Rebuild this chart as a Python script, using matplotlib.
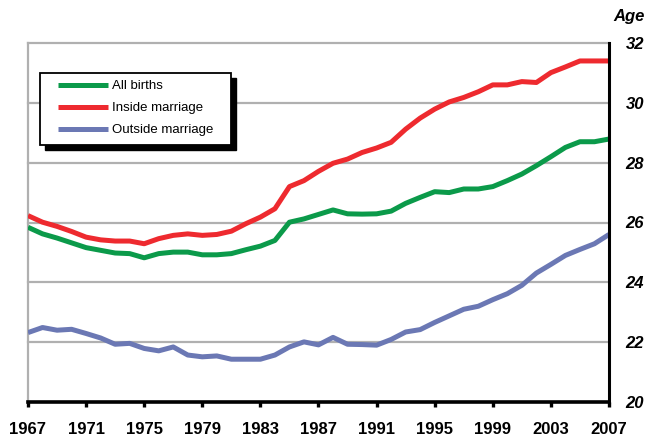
import matplotlib
matplotlib.use("Agg")
import matplotlib.pyplot as plt
from matplotlib.patches import Rectangle

years = list(range(1967, 2008))
all_births = [25.84, 25.62, 25.48, 25.32, 25.16, 25.07, 24.98, 24.96, 24.82, 24.96,
              25.01, 25.01, 24.92, 24.92, 24.96, 25.09, 25.21, 25.40, 26.01, 26.12,
              26.27, 26.42, 26.29, 26.28, 26.29, 26.38, 26.64, 26.84, 27.03, 27.00,
              27.12, 27.12, 27.20, 27.40, 27.62, 27.90, 28.20, 28.51, 28.70, 28.70, 28.79]
inside = [26.23, 26.01, 25.87, 25.70, 25.51, 25.42, 25.38, 25.38, 25.29, 25.46,
          25.57, 25.62, 25.57, 25.60, 25.71, 25.96, 26.18, 26.46, 27.20, 27.40,
          27.71, 27.98, 28.12, 28.34, 28.49, 28.68, 29.12, 29.49, 29.79, 30.03,
          30.18, 30.37, 30.60, 30.60, 30.71, 30.68, 31.01, 31.20, 31.40, 31.40, 31.40]
outside = [22.32, 22.49, 22.40, 22.43, 22.29, 22.14, 21.93, 21.96, 21.79, 21.71,
           21.84, 21.57, 21.51, 21.54, 21.43, 21.43, 21.43, 21.57, 21.84, 22.01,
           21.91, 22.16, 21.93, 21.92, 21.90, 22.09, 22.34, 22.42, 22.66, 22.88,
           23.10, 23.20, 23.42, 23.62, 23.90, 24.31, 24.60, 24.90, 25.10, 25.29, 25.60]
labels = ["All births", "Inside marriage", "Outside marriage"]
colors = ["#0b9a4a", "#ee2a2f", "#6b78b4"]
xticks = list(range(1967, 2008, 4))
yticks = [20, 22, 24, 26, 28, 30, 32]

plt.rcParams['font.family'] = ['Liberation Sans', 'DejaVu Sans']

fig = plt.figure(figsize=(6.47, 4.38), dpi=100)
ax = fig.add_axes([28/647, 36/438, 581/647, 359/438])

grid_c = "#b0b0b0"
for v in yticks[1:]:
    ax.axhline(v, color=grid_c, lw=1.6, zorder=1, clip_on=False)

handles = []
for series, lab, c in zip([all_births, inside, outside], labels, colors):
    h, = ax.plot(years, series, color=c, lw=3.6, label=lab, solid_capstyle='butt',
                 solid_joinstyle='round', zorder=3)
    handles.append(h)

ax.set_xlim(1967, 2007)
ax.set_ylim(20, 32)

ax.spines['left'].set_color(grid_c)
ax.spines['left'].set_linewidth(1.6)
ax.spines['top'].set_visible(False)
ax.spines['right'].set_color('black')
ax.spines['right'].set_linewidth(2.2)
ax.spines['right'].set_zorder(5)
ax.spines['bottom'].set_color('black')
ax.spines['bottom'].set_linewidth(2.6)
ax.spines['bottom'].set_zorder(5)

ax.set_xticks(xticks)
ax.set_xticklabels([str(y) for y in xticks], fontsize=12, fontweight='bold')
ax.yaxis.tick_right()
ax.set_yticks(yticks)
ax.set_yticklabels([str(v) for v in yticks], fontsize=12, fontweight='bold', style='italic')
ax.xaxis.set_tick_params(which='major', direction='out', length=3.5, width=2.4,
                         color='black', pad=11)
ax.yaxis.set_tick_params(which='major', length=0, pad=12)

fig.text(0.997, 0.963, "Age", ha='right', va='center', fontsize=12,
         fontweight='bold', style='italic')

# legend box with solid shadow
bx0, bx1 = 0.0207, 0.3494
by0, by1 = 0.716, 0.916
dx, dy = 5/581, 5/359
ax.add_patch(Rectangle((bx0 + dx, by0 - dy), bx1 - bx0, by1 - by0, transform=ax.transAxes,
                       facecolor='black', edgecolor='black', zorder=6))
ax.add_patch(Rectangle((bx0, by0), bx1 - bx0, by1 - by0, transform=ax.transAxes,
                       facecolor='white', edgecolor='black', lw=1.3, zorder=7))
leg = ax.legend(handles=handles, loc='upper left', bbox_to_anchor=(0.052, 0.897),
                frameon=False, fontsize=9.5, handlelength=3.8, handletextpad=0.25,
                labelspacing=0.75, borderaxespad=0, borderpad=0)
leg.set_zorder(8)

fig.savefig("out.png", dpi=100)
